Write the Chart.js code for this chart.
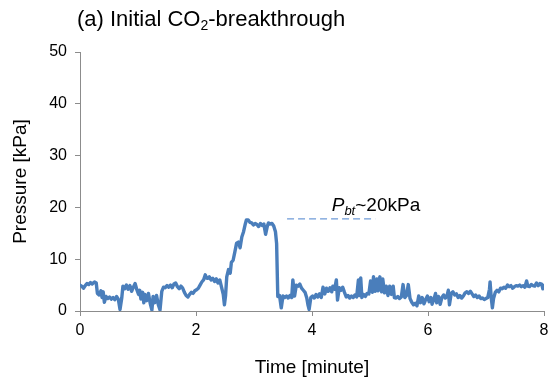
<!DOCTYPE html>
<html><head><meta charset="utf-8">
<script src="https://cdn.jsdelivr.net/npm/chart.js@4.4.1/dist/chart.umd.min.js"></script>
<style>html,body{margin:0;padding:0;background:#fff}#wrap{width:549px;height:383px}</style>
</head><body><div id="wrap"><canvas id="c" width="549" height="383"></canvas></div>
<script>
const timeMin = [0.00,0.03,0.06,0.09,0.12,0.15,0.18,0.21,0.25,0.28,0.30,0.33,0.36,0.38,0.40,0.42,0.45,0.48,0.51,0.54,0.57,0.60,0.63,0.66,0.69,0.72,0.74,0.77,0.80,0.83,0.86,0.89,0.92,0.95,0.98,1.01,1.03,1.05,1.08,1.10,1.12,1.15,1.18,1.21,1.24,1.26,1.29,1.32,1.35,1.38,1.41,1.44,1.47,1.50,1.53,1.56,1.59,1.62,1.65,1.68,1.71,1.74,1.77,1.80,1.83,1.86,1.89,1.92,1.95,1.98,2.01,2.04,2.07,2.10,2.13,2.16,2.18,2.20,2.23,2.26,2.29,2.32,2.35,2.38,2.41,2.44,2.47,2.49,2.51,2.53,2.56,2.59,2.61,2.64,2.67,2.70,2.73,2.76,2.79,2.82,2.85,2.87,2.90,2.93,2.96,2.99,3.02,3.05,3.08,3.11,3.14,3.17,3.20,3.23,3.25,3.28,3.31,3.34,3.37,3.39,3.41,3.44,3.47,3.50,3.53,3.56,3.59,3.62,3.65,3.67,3.70,3.73,3.76,3.79,3.82,3.85,3.88,3.91,3.93,3.95,3.98,4.01,4.04,4.07,4.10,4.13,4.16,4.19,4.22,4.25,4.28,4.31,4.34,4.36,4.39,4.42,4.44,4.47,4.50,4.53,4.56,4.59,4.62,4.65,4.68,4.71,4.74,4.77,4.80,4.82,4.84,4.86,4.89,4.92,4.95,4.98,5.01,5.04,5.06,5.09,5.12,5.14,5.17,5.20,5.22,5.25,5.28,5.31,5.34,5.37,5.40,5.42,5.45,5.48,5.51,5.54,5.57,5.60,5.63,5.66,5.69,5.72,5.75,5.78,5.81,5.84,5.87,5.90,5.93,5.96,5.99,6.02,6.05,6.07,6.10,6.13,6.15,6.18,6.21,6.24,6.27,6.30,6.33,6.35,6.37,6.40,6.43,6.46,6.49,6.52,6.55,6.58,6.61,6.64,6.67,6.70,6.73,6.76,6.79,6.82,6.85,6.88,6.91,6.94,6.97,7.00,7.03,7.06,7.07,7.09,7.11,7.13,7.16,7.19,7.22,7.25,7.28,7.31,7.34,7.37,7.40,7.43,7.46,7.49,7.52,7.55,7.58,7.61,7.64,7.67,7.70,7.72,7.75,7.78,7.81,7.84,7.87,7.90,7.93,7.96,7.98,8.00];
const pressureKPa = [5.0,4.8,4.4,4.9,5.3,5.1,5.5,5.2,5.6,5.4,3.4,3.1,3.9,2.6,3.7,1.7,2.8,2.4,2.7,2.3,2.6,2.2,2.8,2.3,0.3,2.5,4.8,4.3,5.0,4.2,4.9,3.8,4.6,5.3,4.1,3.2,4.0,2.3,3.6,1.6,3.2,2.0,3.4,1.5,0.2,2.8,1.6,3.0,1.2,0.2,3.8,4.6,4.5,4.9,4.6,5.0,4.5,5.2,5.4,4.7,4.3,4.8,4.4,3.6,3.0,2.7,3.2,3.6,3.4,3.9,4.1,4.4,5.0,5.6,6.0,7.0,6.4,6.3,6.6,6.0,6.3,5.7,6.2,5.4,6.0,4.6,3.2,1.2,3.0,6.6,8.0,7.3,9.4,9.8,11.4,13.1,13.3,12.2,14.3,15.3,16.8,17.6,17.6,17.1,17.0,16.6,16.9,16.7,16.3,16.9,16.5,16.8,14.8,16.4,17.0,16.8,16.9,16.4,15.3,13.0,2.8,3.0,0.6,2.9,2.6,2.9,2.5,3.0,2.6,6.0,2.9,5.0,4.8,5.2,4.4,4.0,3.6,2.5,1.2,0.3,2.6,2.9,2.5,3.2,2.7,3.3,2.6,4.6,3.3,4.4,3.8,4.5,3.7,4.8,4.2,6.0,2.1,4.5,4.0,4.6,3.6,2.7,3.0,2.5,2.9,2.6,3.1,2.7,6.0,3.0,6.4,2.6,3.2,2.8,3.4,3.3,5.8,3.6,6.6,3.8,6.2,3.9,6.6,3.7,6.2,3.5,4.8,3.0,4.8,3.2,4.8,2.6,2.5,2.8,2.4,2.7,5.1,2.6,3.0,5.1,2.4,1.7,1.2,1.5,1.0,2.9,1.6,2.6,1.4,2.2,2.9,1.8,2.6,1.3,2.2,3.4,1.6,2.8,1.3,2.6,3.1,2.5,3.0,4.0,1.2,3.4,3.7,3.1,3.3,2.6,3.0,2.5,2.9,3.5,3.7,3.4,3.8,3.3,2.8,3.1,2.6,2.9,2.4,2.5,2.2,2.4,2.6,4.2,5.6,2.6,0.6,2.4,3.6,4.0,3.7,4.4,4.3,4.6,4.4,5.0,4.7,4.9,4.4,4.7,4.9,4.8,5.0,4.7,4.9,4.6,5.8,4.8,4.7,5.1,4.9,4.8,5.4,4.9,5.3,5.2,4.3,4.9];
const refLineX = [3.57, 5.09];
const refLineY = [17.8, 17.8];
const xTicks = [0, 2, 4, 6, 8];
const yTicks = [0, 10, 20, 30, 40, 50];

const FONT = '"Liberation Sans", Arial, sans-serif';

const series = timeMin.map((t, i) => ({x: t, y: pressureKPa[i]}));
const refLine = refLineX.map((t, i) => ({x: t, y: refLineY[i]}));

const textPlugin = {
  id: 'texts',
  afterDraw(chart) {
    const ctx = chart.ctx;
    ctx.save();
    ctx.fillStyle = '#000';
    ctx.textBaseline = 'alphabetic';
    ctx.textAlign = 'left';
    let x = 77, y = 26;
    ctx.font = '22px ' + FONT;
    const a = '(a) Initial CO';
    ctx.fillText(a, x, y); x += ctx.measureText(a).width;
    ctx.font = '14px ' + FONT;
    ctx.fillText('2', x, y + 4); x += ctx.measureText('2').width;
    ctx.font = '22px ' + FONT;
    ctx.fillText('-breakthrough', x, y);
    const xs = chart.scales.x, ys = chart.scales.y;
    x = xs.getPixelForValue(4.34); y = ys.getPixelForValue(19.3);
    ctx.font = 'italic 19px ' + FONT;
    ctx.fillText('P', x, y); x += ctx.measureText('P').width;
    ctx.font = 'italic 13px ' + FONT;
    ctx.fillText('bt', x, y + 4); x += ctx.measureText('bt').width;
    ctx.font = '19px ' + FONT;
    ctx.fillText('~20kPa', x, y);
    ctx.restore();
  }
};

new Chart(document.getElementById('c'), {
  type: 'line',
  data: {
    datasets: [
      {data: series, borderColor: '#4a7ebb', borderWidth: 3.4, borderJoinStyle: 'round', borderCapStyle: 'round', pointRadius: 0, tension: 0, fill: false},
      {data: refLine, borderColor: '#6f9bd8', borderWidth: 1.3, borderDash: [7, 4], pointRadius: 0, fill: false}
    ]
  },
  options: {
    responsive: false,
    animation: false,
    events: [],
    layout: {padding: {top: 52, right: 5, left: 0, bottom: 0}},
    plugins: {legend: {display: false}, tooltip: {enabled: false}, title: {display: false}},
    scales: {
      x: {
        type: 'linear', min: 0, max: 8,
        afterBuildTicks: s => { s.ticks = xTicks.map(v => ({value: v})); },
        afterFit: s => { s.height = 72; s.paddingRight = 0; s.paddingLeft = 0; },
        grid: {display: true, drawOnChartArea: false, drawTicks: true, tickLength: 5, color: '#8c8c8c', lineWidth: 1},
        border: {display: true, color: '#8c8c8c', width: 1},
        ticks: {color: '#000', font: {family: FONT, size: 16}, padding: 5, maxRotation: 0},
        title: {display: true, text: 'Time [minute]', color: '#000', font: {family: FONT, size: 19}, padding: {top: 9}}
      },
      y: {
        type: 'linear', min: 0, max: 50,
        afterBuildTicks: s => { s.ticks = yTicks.map(v => ({value: v})); },
        afterFit: s => { s.width = 80; s.paddingTop = 0; s.paddingBottom = 0; },
        grid: {display: true, drawOnChartArea: false, drawTicks: true, tickLength: 5, color: '#8c8c8c', lineWidth: 1},
        border: {display: true, color: '#8c8c8c', width: 1},
        ticks: {color: '#000', font: {family: FONT, size: 16}, padding: 8},
        title: {display: true, text: 'Pressure [kPa]', color: '#000', font: {family: FONT, size: 19}, padding: {top: 9}}
      }
    }
  },
  plugins: [textPlugin]
});
</script></body></html>
